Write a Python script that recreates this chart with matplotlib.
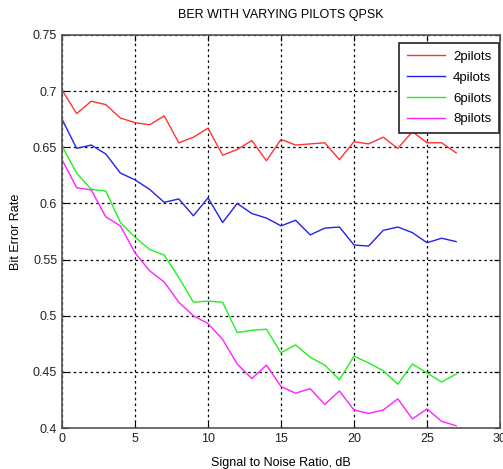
import numpy as np
import matplotlib
matplotlib.use('Agg')
import matplotlib.pyplot as plt

plt.rcParams['font.family'] = ['Liberation Sans', 'DejaVu Sans']

snr = list(range(0, 28))
p2 = [0.701, 0.680, 0.691, 0.688, 0.676, 0.672, 0.670, 0.678, 0.654, 0.659,
      0.667, 0.643, 0.648, 0.656, 0.638, 0.657, 0.652, 0.653, 0.654, 0.639,
      0.655, 0.653, 0.659, 0.649, 0.664, 0.654, 0.654, 0.645]
p4 = [0.675, 0.649, 0.652, 0.644, 0.627, 0.621, 0.6125, 0.601, 0.604, 0.589,
      0.605, 0.583, 0.600, 0.591, 0.587, 0.580, 0.585, 0.572, 0.578, 0.579,
      0.563, 0.562, 0.576, 0.579, 0.574, 0.565, 0.569, 0.566]
p6 = [0.651, 0.627, 0.6125, 0.611, 0.583, 0.570, 0.559, 0.554, 0.534, 0.512,
      0.513, 0.512, 0.485, 0.487, 0.488, 0.467, 0.474, 0.463, 0.456, 0.443,
      0.464, 0.458, 0.451, 0.439, 0.457, 0.449, 0.441, 0.448]
p8 = [0.639, 0.614, 0.612, 0.588, 0.580, 0.556, 0.540, 0.530, 0.512, 0.500,
      0.493, 0.479, 0.457, 0.444, 0.456, 0.437, 0.431, 0.435, 0.421, 0.433,
      0.416, 0.413, 0.416, 0.426, 0.408, 0.417, 0.406, 0.402]

fig = plt.figure(figsize=(5.03, 4.69), dpi=100)
ax = fig.add_axes([0.1233, 0.0874, 0.8707, 0.838])

ax.plot(snr, p2, color='#ff3333', lw=1, label='2pilots')
ax.plot(snr, p4, color='#2222ee', lw=1, label='4pilots')
ax.plot(snr, p6, color='#22ee22', lw=1, label='6pilots')
ax.plot(snr, p8, color='#ff22ff', lw=1, label='8pilots')

ax.set_xlim(0, 30)
ax.set_ylim(0.4, 0.75)
ax.set_xticks(range(0, 31, 5))
ax.set_yticks([0.4, 0.45, 0.5, 0.55, 0.6, 0.65, 0.7, 0.75])
ax.set_yticklabels(['0.4', '0.45', '0.5', '0.55', '0.6', '0.65', '0.7', '0.75'])
ax.grid(True, color='black', linestyle=(0, (2, 2.5)), lw=0.9)
ax.tick_params(direction='in', top=True, right=True, labelsize=9, length=4,
               labelcolor='#222222')
for s in ax.spines.values():
    s.set_color('#555555')
    s.set_linewidth(1.2)

ax.set_title('BER WITH VARYING PILOTS QPSK', fontsize=9, pad=12)
ax.set_xlabel('Signal to Noise Ratio, dB', fontsize=9, labelpad=9)
ax.set_ylabel('Bit Error Rate', fontsize=9, labelpad=8)

leg = ax.legend(loc='upper right', fontsize=9.5, fancybox=False, framealpha=1,
                edgecolor='#222222', bbox_to_anchor=(0.998, 0.98),
                borderaxespad=0, handlelength=2.9, labelspacing=0.65,
                borderpad=0.6, handletextpad=0.6)
leg.get_frame().set_linewidth(1.2)

fig.savefig('out.png', dpi=100)
